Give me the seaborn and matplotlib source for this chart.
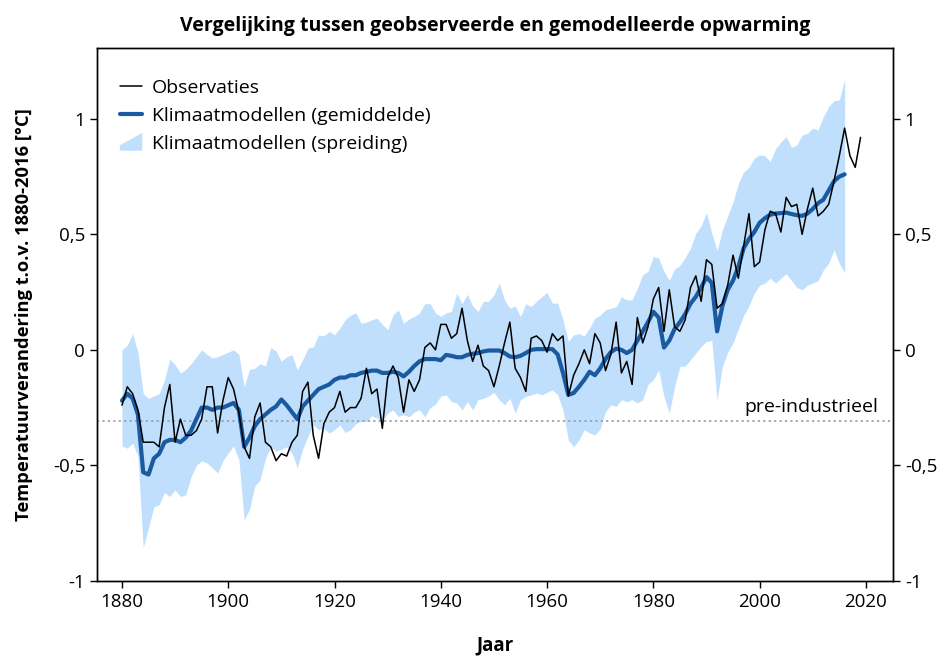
"""Waargenomen versus gemodelleerde opwarming, 1880-2019."""

import matplotlib

matplotlib.use("Agg")

import matplotlib.pyplot as plt
import numpy as np
import pandas as pd
import seaborn as sns
from matplotlib.legend_handler import HandlerBase
from matplotlib.lines import Line2D
from matplotlib.patches import Patch, Polygon
from matplotlib.ticker import FuncFormatter

# --- data --------------------------------------------------------------------
obs_years = list(range(1880, 2020))
obs_values = [
    -0.24, -0.16, -0.19, -0.26, -0.40, -0.40, -0.40, -0.42, -0.25, -0.15,  # 1880
    -0.40, -0.30, -0.37, -0.37, -0.35, -0.30, -0.16, -0.16, -0.36, -0.22,  # 1890
    -0.12, -0.17, -0.27, -0.42, -0.47, -0.29, -0.23, -0.40, -0.42, -0.48,  # 1900
    -0.45, -0.46, -0.40, -0.37, -0.18, -0.14, -0.37, -0.47, -0.32, -0.27,  # 1910
    -0.25, -0.18, -0.27, -0.25, -0.25, -0.21, -0.08, -0.19, -0.17, -0.34,  # 1920
    -0.12, -0.07, -0.12, -0.27, -0.13, -0.18, -0.13, 0.01, 0.03, 0.00,  # 1930
    0.11, 0.11, 0.05, 0.07, 0.18, 0.04, -0.05, 0.02, -0.07, -0.09,  # 1940
    -0.16, -0.07, 0.03, 0.12, -0.08, -0.12, -0.18, 0.05, 0.06, 0.04,  # 1950
    -0.01, 0.07, 0.04, 0.06, -0.20, -0.11, -0.06, 0.00, -0.06, 0.07,  # 1960
    0.03, -0.09, -0.02, 0.12, -0.10, -0.05, -0.15, 0.14, 0.03, 0.10,  # 1970
    0.22, 0.27, 0.08, 0.26, 0.10, 0.08, 0.13, 0.27, 0.32, 0.21,  # 1980
    0.39, 0.37, 0.18, 0.20, 0.28, 0.41, 0.31, 0.45, 0.59, 0.36,  # 1990
    0.38, 0.52, 0.60, 0.59, 0.51, 0.66, 0.62, 0.63, 0.50, 0.61,  # 2000
    0.70, 0.58, 0.60, 0.63, 0.73, 0.84, 0.96, 0.84, 0.79, 0.92,  # 2010
]

model_years = list(range(1880, 2017))
model_mean = [
    -0.22, -0.19, -0.21, -0.28, -0.53, -0.54, -0.47, -0.45, -0.40, -0.39,  # 1880
    -0.39, -0.40, -0.38, -0.35, -0.30, -0.25, -0.25, -0.26, -0.25, -0.25,  # 1890
    -0.24, -0.23, -0.26, -0.42, -0.38, -0.33, -0.30, -0.28, -0.26, -0.245,  # 1900
    -0.215, -0.24, -0.27, -0.30, -0.245, -0.22, -0.195, -0.17, -0.16, -0.15,  # 1910
    -0.13, -0.12, -0.12, -0.11, -0.11, -0.10, -0.095, -0.09, -0.09, -0.10,  # 1920
    -0.10, -0.095, -0.10, -0.115, -0.095, -0.07, -0.05, -0.04, -0.04, -0.04,  # 1930
    -0.045, -0.022, -0.026, -0.032, -0.032, -0.022, -0.017, -0.014, -0.007, -0.003,  # 1940
    -0.003, -0.003, -0.014, -0.029, -0.032, -0.026, -0.014, 0.0, 0.003, 0.003,  # 1950
    0.003, 0.003, -0.02, -0.10, -0.195, -0.187, -0.16, -0.13, -0.095, -0.11,  # 1960
    -0.08, -0.04, -0.01, 0.005, 0.0, -0.014, 0.0, 0.04, 0.08, 0.12,  # 1970
    0.165, 0.14, 0.01, 0.04, 0.09, 0.12, 0.155, 0.20, 0.23, 0.27,  # 1980
    0.315, 0.29, 0.08, 0.19, 0.26, 0.30, 0.36, 0.44, 0.48, 0.51,  # 1990
    0.55, 0.57, 0.585, 0.59, 0.592, 0.594, 0.588, 0.583, 0.58, 0.59,  # 2000
    0.61, 0.635, 0.65, 0.69, 0.73, 0.75, 0.76,  # 2010
]
model_upper = [
    0.00, 0.02, 0.07, -0.01, -0.19, -0.21, -0.20, -0.19, -0.13, -0.04,  # 1880
    -0.065, -0.10, -0.085, -0.06, -0.03, 0.00, -0.02, -0.035, -0.03, -0.02,  # 1890
    -0.01, 0.00, -0.02, -0.16, -0.085, -0.08, -0.06, -0.07, 0.01, -0.005,  # 1900
    -0.05, -0.03, -0.022, -0.087, -0.043, 0.007, 0.012, 0.065, 0.06, 0.08,  # 1910
    0.065, 0.094, 0.13, 0.15, 0.16, 0.115, 0.12, 0.13, 0.137, 0.11,  # 1920
    0.087, 0.15, 0.173, 0.115, 0.133, 0.144, 0.16, 0.20, 0.20, 0.16,  # 1930
    0.145, 0.16, 0.166, 0.245, 0.20, 0.24, 0.19, 0.166, 0.21, 0.21,  # 1940
    0.238, 0.289, 0.216, 0.18, 0.19, 0.144, 0.20, 0.187, 0.21, 0.23,  # 1950
    0.248, 0.202, 0.202, 0.13, 0.036, 0.065, 0.07, 0.06, 0.095, 0.137,  # 1960
    0.15, 0.173, 0.18, 0.187, 0.23, 0.216, 0.216, 0.267, 0.325, 0.34,  # 1970
    0.404, 0.397, 0.34, 0.30, 0.35, 0.365, 0.40, 0.44, 0.505, 0.537,  # 1980
    0.594, 0.505, 0.43, 0.52, 0.58, 0.64, 0.72, 0.77, 0.79, 0.83,  # 1990
    0.844, 0.84, 0.815, 0.87, 0.90, 0.923, 0.877, 0.887, 0.93, 0.938,  # 2000
    0.96, 0.952, 1.01, 1.053, 1.079, 1.082, 1.169,  # 2010
]
model_lower = [
    -0.416, -0.426, -0.404, -0.46, -0.858, -0.77, -0.68, -0.67, -0.618, -0.635,  # 1880
    -0.606, -0.635, -0.628, -0.55, -0.50, -0.48, -0.49, -0.51, -0.534, -0.48,  # 1890
    -0.447, -0.416, -0.476, -0.736, -0.69, -0.59, -0.563, -0.47, -0.42, -0.44,  # 1900
    -0.43, -0.42, -0.447, -0.51, -0.43, -0.375, -0.325, -0.346, -0.34, -0.36,  # 1910
    -0.346, -0.325, -0.358, -0.346, -0.32, -0.31, -0.31, -0.286, -0.296, -0.31,  # 1920
    -0.274, -0.26, -0.289, -0.28, -0.29, -0.27, -0.26, -0.29, -0.25, -0.235,  # 1930
    -0.20, -0.195, -0.224, -0.23, -0.26, -0.224, -0.26, -0.216, -0.21, -0.20,  # 1940
    -0.184, -0.216, -0.238, -0.21, -0.274, -0.216, -0.202, -0.195, -0.187, -0.195,  # 1950
    -0.184, -0.173, -0.195, -0.26, -0.39, -0.42, -0.39, -0.346, -0.36, -0.368,  # 1960
    -0.343, -0.267, -0.238, -0.245, -0.216, -0.224, -0.216, -0.23, -0.216, -0.15,  # 1970
    -0.13, -0.087, -0.202, -0.274, -0.159, -0.072, -0.07, -0.043, -0.014, 0.014,  # 1980
    0.036, 0.04, -0.216, -0.072, -0.01, 0.03, 0.09, 0.15, 0.19, 0.245,  # 1990
    0.28, 0.289, 0.31, 0.289, 0.31, 0.33, 0.30, 0.27, 0.26, 0.28,  # 2000
    0.29, 0.30, 0.346, 0.375, 0.433, 0.375, 0.335,  # 2010
]

preindustrial = -0.31
y_ticks = [-1, -0.5, 0, 0.5, 1]
x_ticks = [1880, 1900, 1920, 1940, 1960, 1980, 2000, 2020]

BAND_COLOR = "#bfdffd"
MEAN_COLOR = "#1a5aa0"


class HandlerWedge(HandlerBase):
    """Legend key for the spread: a patch that widens to the right."""

    def create_artists(self, legend, orig_handle, xdescent, ydescent,
                       width, height, fontsize, trans):
        x0, y0 = -xdescent, -ydescent - 0.15 * height
        h = height * 1.3
        pts = [(x0, y0), (x0 + width, y0), (x0 + width, y0 + h), (x0, y0 + 0.3 * h)]
        poly = Polygon(pts, closed=True, facecolor=orig_handle.get_facecolor(),
                       edgecolor="none", transform=trans)
        return [poly]


def fmt_comma(v, _pos=None):
    return f"{v:g}".replace(".", ",")


obs_df = pd.DataFrame({"jaar": obs_years, "anomalie": obs_values})
model_df = pd.DataFrame(
    {"jaar": model_years, "gemiddelde": model_mean,
     "boven": model_upper, "onder": model_lower}
)

sns.set_style("ticks")
plt.rcParams["font.family"] = ["Open Sans", "DejaVu Sans"]
plt.rcParams.update({"text.color": "black", "axes.labelcolor": "black",
                     "xtick.color": "black", "ytick.color": "black"})

fig, ax = plt.subplots(figsize=(9.38, 6.57), dpi=100)
fig.subplots_adjust(left=0.1034, right=0.952, top=0.927, bottom=0.116)

ax.fill_between(model_df["jaar"], model_df["onder"], model_df["boven"],
                color=BAND_COLOR, linewidth=0, zorder=1)
sns.lineplot(data=model_df, x="jaar", y="gemiddelde", color=MEAN_COLOR,
             linewidth=3, ax=ax, zorder=3)
sns.lineplot(data=obs_df, x="jaar", y="anomalie", color="black",
             linewidth=1.1, ax=ax, zorder=4)

ax.axhline(preindustrial, color="#a0a0a0", linestyle=(0, (1.2, 1.8)),
           linewidth=1.3, zorder=2)
ax.text(2022.4, preindustrial + 0.022, "pre-industrieel", ha="right", va="bottom",
        fontsize=14)

ax.set_xlim(1875.3, 2025.1)
ax.set_ylim(-1, 1.307)
ax.set_xticks(x_ticks)
ax.set_yticks(y_ticks)
ax.yaxis.set_major_formatter(FuncFormatter(fmt_comma))
ax.tick_params(axis="both", direction="out", length=5, width=1, labelsize=13.5)

ax2 = ax.twinx()
ax2.set_ylim(ax.get_ylim())
ax2.set_yticks(y_ticks)
ax2.yaxis.set_major_formatter(FuncFormatter(fmt_comma))
ax2.tick_params(axis="y", direction="out", length=5, width=1, labelsize=13.5)

for a in (ax, ax2):
    for spine in a.spines.values():
        spine.set_visible(True)
        spine.set_color("black")
        spine.set_linewidth(1)

ax.set_xlabel("Jaar", fontsize=13.5, fontweight="bold", labelpad=18)
ax.set_ylabel("Temperatuurverandering t.o.v. 1880-2016 [°C]", fontsize=13.2,
              fontweight="bold", labelpad=14)
ax.set_title("Vergelijking tussen geobserveerde en gemodelleerde opwarming",
             fontsize=14, fontweight="bold", pad=12)

handles = [
    Line2D([], [], color="black", linewidth=1.1),
    Line2D([], [], color=MEAN_COLOR, linewidth=3),
    Patch(facecolor=BAND_COLOR),
]
labels = ["Observaties", "Klimaatmodellen (gemiddelde)", "Klimaatmodellen (spreiding)"]
ax.legend(handles, labels, loc="upper left", bbox_to_anchor=(0.019, 0.956),
          borderaxespad=0, frameon=False, fontsize=14,
          handlelength=1.15, handletextpad=0.5, labelspacing=0.5,
          handler_map={Patch: HandlerWedge()})

fig.savefig("out.png", dpi=100)
plt.close(fig)
